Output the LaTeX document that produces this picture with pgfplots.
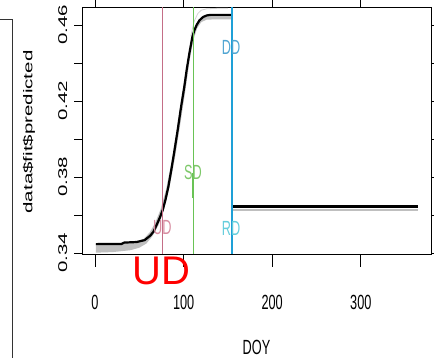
\documentclass[border=0pt]{standalone}
\usepackage{pgfplots}
\pgfplotsset{compat=1.18}
\usepgfplotslibrary{fillbetween}
\usepackage{fontspec}
\setmainfont{Liberation Sans}
\usepackage{graphicx}
\newcommand\sqx[1]{\scalebox{0.62}[1]{#1}}
\newcommand\sqy[1]{\scalebox{1}[0.62]{#1}}
\definecolor{udcol}{RGB}{196,110,135}
\definecolor{udlab}{RGB}{215,140,160}
\definecolor{sdcol}{RGB}{105,195,85}
\definecolor{sdlab}{RGB}{125,200,105}
\definecolor{ddcol}{RGB}{30,160,215}
\definecolor{ddlab}{RGB}{80,165,210}
\definecolor{rdlab}{RGB}{100,205,220}
\begin{document}
\begin{tikzpicture}[x=1pt,y=1pt]
\draw[line width=0.8pt, black!80] (0,338.5) -- (12.3,338.5) -- (12.3,0);
\begin{axis}[
  at={(82pt,104pt)}, anchor=south west, scale only axis,
  width=349pt, height=246.7pt,
  xmin=-14.67, xmax=379.2, ymin=0.3395, ymax=0.4693,
  axis line style={line width=0.9pt},
  tick align=outside, tick style={black, line width=0.8pt},
  major tick length=12.7pt,
  xtick={0,100,200,300},
  xticklabels={\sqx{0},\sqx{100},\sqx{200},\sqx{300}},
  ytick={0.34,0.36,0.38,0.40,0.42,0.44,0.46},
  yticklabels={\sqy{0.34},,\sqy{0.38},,\sqy{0.42},,\sqy{0.46}},
  ytick style={/pgfplots/major tick length=7.9pt},
  xticklabel style={inner sep=1pt, yshift=-26.8pt},
  yticklabel style={rotate=90, anchor=south, yshift=-1.5pt},
  tick label style={font=\fontsize{20.5}{24}\selectfont},
  label style={font=\fontsize{20.5}{24}\selectfont},
  xlabel={\sqx{DOY}}, ylabel={\sqy{data\$fit\$predicted}},
  xlabel style={at={(axis description cs:0.5,-0.379)}, anchor=center},
  ylabel style={at={(axis description cs:-0.152,0.4945)}, anchor=center},
]
% gray band of fitted curves
\addplot[draw=none, name path=L] coordinates {(1,0.3402) (20,0.3405) (40,0.3415) (50,0.3428) (58,0.3450) (65,0.3490) (72,0.3550) (78,0.3630) (84,0.3745) (90,0.3895) (96,0.4070) (102,0.4255) (107,0.4420) (111,0.4520) (115,0.4580) (120,0.4615) (126,0.4628) (140,0.4630) (154,0.4630)};
\addplot[draw=none, name path=U] coordinates {(1,0.3447) (30,0.3449) (45,0.3458) (55,0.3475) (62,0.3510) (68,0.3560) (74,0.3630) (80,0.3730) (86,0.3870) (92,0.4040) (98,0.4230) (104,0.4400) (109,0.4530) (114,0.4600) (120,0.4640) (130,0.4653) (154,0.4653)};
\addplot[gray!50] fill between[of=L and U];
\addplot[gray!35, line width=0.8pt] coordinates {(108,0.4540) (112,0.4620) (116,0.4660) (120,0.4678) (126,0.4685) (140,0.4688) (150,0.4688)};
\addplot[gray!50, line width=2.5pt] coordinates {(155,0.3626) (365,0.3626)};
% fitted curve
\addplot[black, line width=2.2pt] coordinates {(1,0.3447) (30,0.3448) (33,0.3455) (47,0.3458) (56,0.3468) (62,0.3490) (66,0.3512) (70.3,0.3556) (73.5,0.3590) (76.4,0.3626) (79.5,0.3680) (82.8,0.3749) (86,0.3835) (89.2,0.3925) (93.3,0.4047) (97,0.4165) (100.8,0.4275) (103.5,0.4365) (106.5,0.4451) (109.9,0.4538) (112,0.4570) (114.7,0.4600) (118,0.4625) (122,0.4642) (126,0.4650) (130,0.4653) (154,0.4653)};
\addplot[black, line width=2.2pt] coordinates {(155,0.3645) (365,0.3645)};
% phenology lines
\addplot[draw=udcol, line width=1pt] coordinates {(75.96,0.3395) (75.96,0.4693)};
\addplot[draw=sdcol, line width=1pt] coordinates {(110.9,0.3395) (110.9,0.4693)};
\addplot[draw=ddcol, line width=1.6pt] coordinates {(154.3,0.3395) (154.3,0.4693)};
\addplot[draw=sdcol, line width=2.2pt] coordinates {(110.5,0.3689) (110.5,0.3821)};
\addplot[draw=udcol, line width=1.6pt] coordinates {(76,0.3400) (76,0.3521)};
\node[text=udlab, font=\fontsize{20.5}{24}\selectfont] at (axis cs:76,0.3532) {\sqx{UD}};
\node[text=sdlab, font=\fontsize{20.5}{24}\selectfont] at (axis cs:110.6,0.3826) {\sqx{SD}};
\node[text=ddlab, font=\fontsize{20.5}{24}\selectfont] at (axis cs:153.5,0.4484) {\sqx{DD}};
\node[text=rdlab, font=\fontsize{20.5}{24}\selectfont] at (axis cs:153.5,0.3532) {\sqx{RD}};
\end{axis}
\node[text=red, inner sep=0pt, font=\fontsize{40}{48}\selectfont] at (161.7,87) {UD};
\pgfresetboundingbox
\useasboundingbox (0,0) rectangle (434,358);
\end{tikzpicture}
\end{document}
